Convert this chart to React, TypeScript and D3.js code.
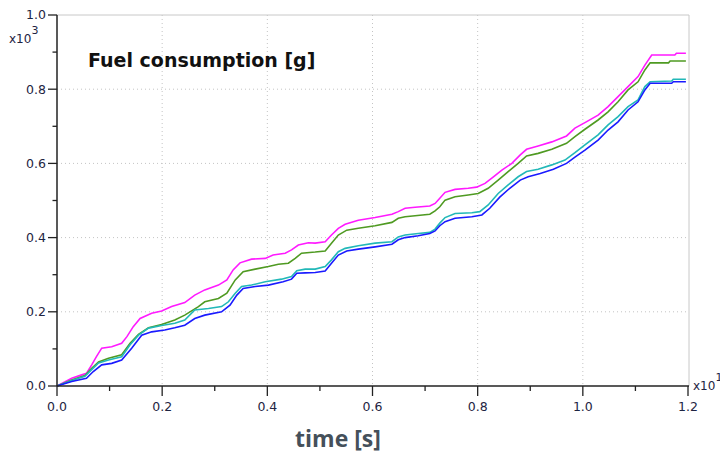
import React from "react";
import * as d3 from "d3";

// ---- data (time axis shown as in the reference, values in x10^3 g) ----
const xTicks = [0, 0.2, 0.4, 0.6, 0.8, 1.0, 1.2];
const yTicks = [0, 0.2, 0.4, 0.6, 0.8, 1.0];
const xMinorTicks = [0.1, 0.3, 0.5, 0.7, 0.9, 1.1];
const yMinorTicks = [0.1, 0.3, 0.5, 0.7, 0.9];

const magenta: [number, number][] = [
  [0, 0], [0.028, 0.021], [0.047, 0.03], [0.056, 0.034], [0.066, 0.057], [0.075, 0.079],
  [0.085, 0.102], [0.104, 0.106], [0.123, 0.115], [0.133, 0.133], [0.145, 0.16], [0.158, 0.182],
  [0.18, 0.196], [0.199, 0.202], [0.218, 0.214], [0.243, 0.225], [0.262, 0.245], [0.281, 0.259],
  [0.307, 0.272], [0.323, 0.286], [0.335, 0.313], [0.348, 0.332], [0.37, 0.342], [0.396, 0.344],
  [0.411, 0.353], [0.434, 0.358], [0.446, 0.367], [0.459, 0.38], [0.478, 0.386], [0.491, 0.385],
  [0.51, 0.389], [0.522, 0.407], [0.535, 0.425], [0.548, 0.436], [0.573, 0.447], [0.605, 0.454],
  [0.637, 0.463], [0.649, 0.47], [0.662, 0.479], [0.681, 0.482], [0.709, 0.485], [0.719, 0.492],
  [0.728, 0.506], [0.738, 0.522], [0.757, 0.53], [0.782, 0.533], [0.798, 0.536], [0.814, 0.546],
  [0.83, 0.564], [0.846, 0.582], [0.865, 0.6], [0.881, 0.623], [0.893, 0.638], [0.915, 0.647],
  [0.941, 0.658], [0.969, 0.674], [0.985, 0.695], [1.004, 0.71], [1.029, 0.73], [1.048, 0.753],
  [1.067, 0.78], [1.086, 0.807], [1.105, 0.834], [1.118, 0.865], [1.131, 0.892], [1.175, 0.892],
  [1.178, 0.897], [1.196, 0.897],
];

const green: [number, number][] = [
  [0, 0], [0.028, 0.016], [0.053, 0.028], [0.066, 0.048], [0.079, 0.065], [0.098, 0.075],
  [0.123, 0.084], [0.139, 0.115], [0.155, 0.139], [0.174, 0.157], [0.199, 0.166], [0.224, 0.178],
  [0.243, 0.191], [0.269, 0.214], [0.281, 0.227], [0.307, 0.236], [0.323, 0.25], [0.339, 0.286],
  [0.354, 0.308], [0.377, 0.315], [0.402, 0.322], [0.421, 0.328], [0.44, 0.331], [0.453, 0.344],
  [0.465, 0.358], [0.491, 0.361], [0.51, 0.364], [0.522, 0.385], [0.535, 0.407], [0.551, 0.42],
  [0.573, 0.425], [0.605, 0.432], [0.637, 0.441], [0.649, 0.452], [0.662, 0.456], [0.681, 0.459],
  [0.709, 0.463], [0.719, 0.472], [0.728, 0.483], [0.738, 0.501], [0.757, 0.51], [0.782, 0.515],
  [0.801, 0.519], [0.82, 0.533], [0.839, 0.555], [0.858, 0.578], [0.877, 0.6], [0.893, 0.62],
  [0.915, 0.627], [0.941, 0.638], [0.969, 0.654], [0.985, 0.672], [1.004, 0.692], [1.029, 0.717],
  [1.048, 0.739], [1.067, 0.766], [1.086, 0.798], [1.105, 0.82], [1.118, 0.852], [1.128, 0.871],
  [1.163, 0.871], [1.166, 0.876], [1.196, 0.876],
];

const cyan: [number, number][] = [
  [0, 0], [0.028, 0.015], [0.053, 0.026], [0.066, 0.044], [0.079, 0.062], [0.098, 0.07],
  [0.123, 0.079], [0.139, 0.111], [0.155, 0.137], [0.174, 0.156], [0.199, 0.163], [0.224, 0.169],
  [0.243, 0.178], [0.262, 0.205], [0.288, 0.209], [0.313, 0.214], [0.326, 0.227], [0.339, 0.25],
  [0.351, 0.268], [0.37, 0.272], [0.396, 0.281], [0.427, 0.288], [0.446, 0.295], [0.456, 0.311],
  [0.472, 0.315], [0.491, 0.315], [0.51, 0.322], [0.522, 0.34], [0.535, 0.362], [0.548, 0.371],
  [0.573, 0.378], [0.605, 0.385], [0.637, 0.389], [0.649, 0.402], [0.662, 0.407], [0.687, 0.411],
  [0.709, 0.414], [0.719, 0.423], [0.728, 0.439], [0.738, 0.454], [0.757, 0.465], [0.789, 0.467],
  [0.804, 0.47], [0.82, 0.488], [0.839, 0.519], [0.858, 0.542], [0.877, 0.564], [0.893, 0.578],
  [0.915, 0.584], [0.941, 0.596], [0.966, 0.609], [0.985, 0.629], [1.004, 0.65], [1.029, 0.677],
  [1.048, 0.704], [1.067, 0.726], [1.086, 0.753], [1.105, 0.771], [1.118, 0.807], [1.128, 0.82],
  [1.169, 0.822], [1.172, 0.827], [1.196, 0.827],
];

const blue: [number, number][] = [
  [0, 0], [0.028, 0.012], [0.056, 0.021], [0.069, 0.039], [0.085, 0.057], [0.104, 0.061],
  [0.123, 0.07], [0.142, 0.102], [0.161, 0.137], [0.18, 0.146], [0.205, 0.151], [0.224, 0.157],
  [0.243, 0.164], [0.262, 0.182], [0.281, 0.191], [0.313, 0.2], [0.329, 0.218], [0.342, 0.245],
  [0.354, 0.263], [0.377, 0.268], [0.402, 0.272], [0.43, 0.281], [0.446, 0.288], [0.456, 0.304],
  [0.472, 0.305], [0.491, 0.306], [0.51, 0.31], [0.522, 0.331], [0.535, 0.353], [0.551, 0.364],
  [0.573, 0.369], [0.605, 0.375], [0.637, 0.382], [0.649, 0.394], [0.662, 0.4], [0.687, 0.405],
  [0.709, 0.411], [0.719, 0.418], [0.728, 0.432], [0.738, 0.443], [0.757, 0.452], [0.789, 0.456],
  [0.808, 0.461], [0.823, 0.479], [0.842, 0.509], [0.861, 0.533], [0.881, 0.555], [0.896, 0.564],
  [0.919, 0.573], [0.944, 0.584], [0.969, 0.6], [0.985, 0.617], [1.004, 0.636], [1.029, 0.663],
  [1.048, 0.69], [1.067, 0.712], [1.086, 0.744], [1.105, 0.766], [1.118, 0.798], [1.128, 0.816],
  [1.169, 0.816], [1.172, 0.82], [1.196, 0.82],
];

const seriesList = [
  { name: "magenta", data: magenta, color: "#ff1aff" },
  { name: "green", data: green, color: "#4f9a22" },
  { name: "cyan", data: cyan, color: "#22b8b8" },
  { name: "blue", data: blue, color: "#1a1aff" },
];

const title = "Fuel consumption [g]";
const xTitle = "time [s]";

export default function App() {
  const W = 720;
  const H = 455;
  const left = 57;
  const right = 688;
  const top = 15;
  const bottom = 386;

  const x = d3.scaleLinear().domain([0, 1.2]).range([left, right]);
  const y = d3.scaleLinear().domain([0, 1.0]).range([bottom, top]);
  const line = d3
    .line<[number, number]>()
    .x((d) => x(d[0]))
    .y((d) => y(d[1]));

  const tickColor = "#1e2442";
  const tickFont = "'DejaVu Sans', Verdana, sans-serif";

  return (
    <svg
      width={W}
      height={H}
      style={{ position: "absolute", left: 0, top: 0, background: "#fff" }}
    >
      <rect x={0} y={0} width={W} height={H} fill="#fff" />
      {/* grid */}
      {xTicks.slice(1, -1).map((t) => (
        <line
          key={"gx" + t}
          x1={x(t)}
          x2={x(t)}
          y1={top}
          y2={bottom}
          stroke="#c4c4c4"
          strokeWidth={1}
          strokeDasharray="1,3"
        />
      ))}
      {yTicks.slice(1, -1).map((t) => (
        <line
          key={"gy" + t}
          x1={left}
          x2={right}
          y1={y(t)}
          y2={y(t)}
          stroke="#c4c4c4"
          strokeWidth={1}
          strokeDasharray="1,3"
        />
      ))}
      {/* frame top/right */}
      <line x1={left} x2={right + 1} y1={top} y2={top} stroke="#c8c8c8" strokeWidth={1} />
      <line x1={right + 1} x2={right + 1} y1={top} y2={bottom} stroke="#c8c8c8" strokeWidth={1} />

      {/* series */}
      {seriesList.map((s) => (
        <path
          key={s.name}
          d={line(s.data) || ""}
          fill="none"
          stroke={s.color}
          strokeWidth={1.6}
          strokeLinejoin="miter"
        />
      ))}

      {/* axes */}
      <line x1={left} x2={left} y1={top} y2={bottom} stroke="#222" strokeWidth={1.5} />
      <line x1={left} x2={right + 1} y1={bottom} y2={bottom} stroke="#222" strokeWidth={1.5} />
      {yTicks.map((t) => (
        <g key={"yt" + t}>
          <line x1={left - 9} x2={left} y1={y(t)} y2={y(t)} stroke="#222" strokeWidth={1.3} />
          <text
            x={left - 11}
            y={y(t)}
            dy="0.35em"
            textAnchor="end"
            fontFamily={tickFont}
            fontSize={12.5}
            fill={tickColor}
          >
            {t.toFixed(1)}
          </text>
        </g>
      ))}
      {yMinorTicks.map((t) => (
        <line key={"ym" + t} x1={left - 4.5} x2={left} y1={y(t)} y2={y(t)} stroke="#222" strokeWidth={1.3} />
      ))}
      {xTicks.map((t) => (
        <g key={"xt" + t}>
          <line x1={x(t)} x2={x(t)} y1={bottom} y2={bottom + 10} stroke="#222" strokeWidth={1.3} />
          <text
            x={x(t)}
            y={bottom + 21}
            dy="0.35em"
            textAnchor="middle"
            fontFamily={tickFont}
            fontSize={12.5}
            fill={tickColor}
          >
            {t.toFixed(1)}
          </text>
        </g>
      ))}
      {xMinorTicks.map((t) => (
        <line key={"xm" + t} x1={x(t)} x2={x(t)} y1={bottom} y2={bottom + 5} stroke="#222" strokeWidth={1.3} />
      ))}

      {/* exponent labels */}
      <text x={9} y={43} fontFamily={tickFont} fontSize={12} fill={tickColor}>
        x10
        <tspan dy={-9} fontSize={11}>3</tspan>
      </text>
      <text x={693} y={390} fontFamily={tickFont} fontSize={12} fill={tickColor}>
        x10
        <tspan dy={-9} fontSize={11}>1</tspan>
      </text>

      {/* title */}
      <text
        x={88}
        y={67}
        fontFamily="'DejaVu Sans', Tahoma, sans-serif"
        fontWeight="bold"
        fontSize={19}
        fill="#111"
      >
        {title}
      </text>

      {/* x axis title */}
      <text
        x={338}
        y={447}
        textAnchor="middle"
        fontFamily="'Open Sans', Roboto, sans-serif"
        fontWeight="bold"
        fontSize={23}
        fill="#45505a"
      >
        {xTitle}
      </text>
    </svg>
  );
}
